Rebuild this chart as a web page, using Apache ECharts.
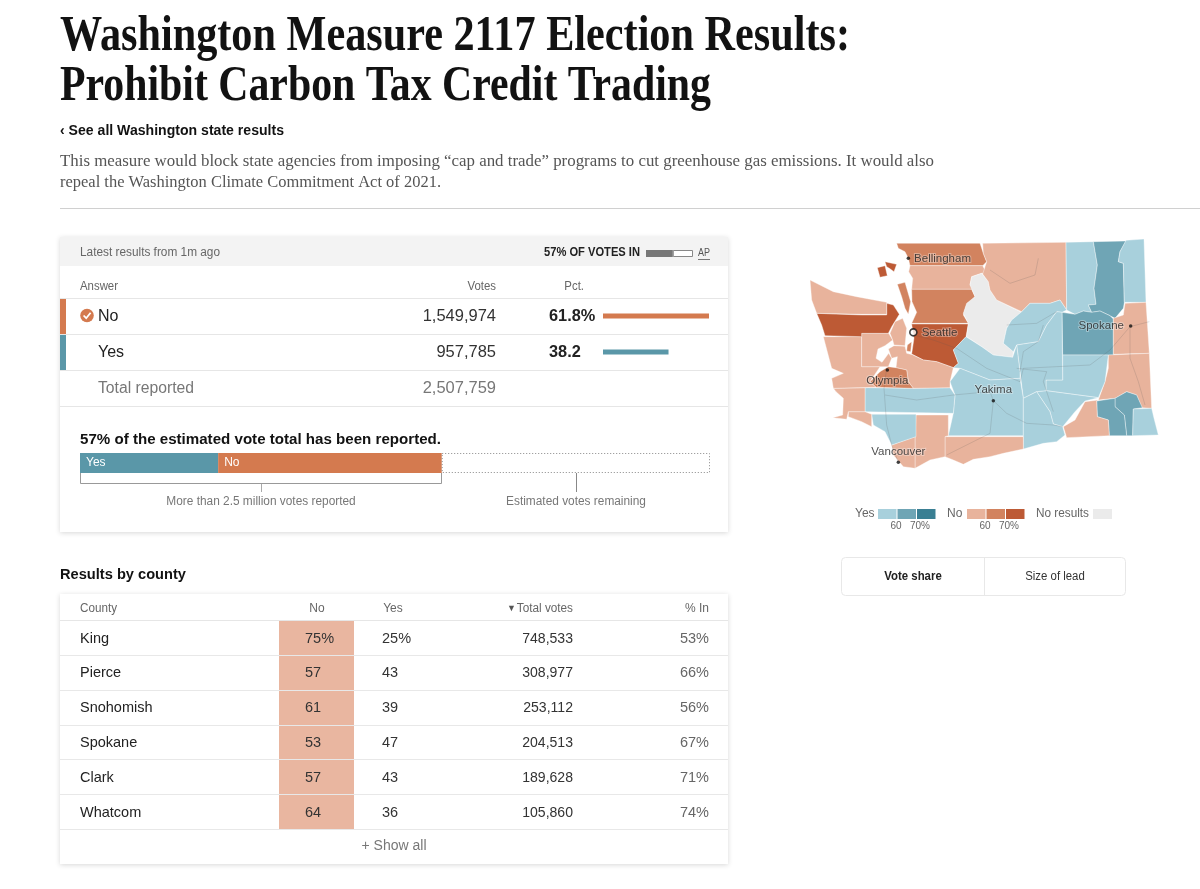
<!DOCTYPE html>
<html><head><meta charset="utf-8">
<style>html,body{margin:0;padding:0;background:#fff}#c{width:1200px;height:889px}</style>
<script src="https://cdn.jsdelivr.net/npm/echarts@6/dist/echarts.min.js"></script>
</head><body><div id="c"></div>
<script>
// ---------- data ----------
const answers = ['No','Yes'];
const answerVotes = [1549974, 957785];
const answerPct = [61.8, 38.2];
const pctLabels = ['61.8%','38.2'];
const totalReported = 2507759;
const estimatedRemaining = 1860000;
const pctVotesIn = 57;
const counties = ['King','Pierce','Snohomish','Spokane','Clark','Whatcom'];
const countyNo = ['75%','57','61','53','57','64'];
const countyYes = ['25%','43','39','47','43','36'];
const countyTotals = [748533,308977,253112,204513,189628,105860];
const countyIn = ['53%','66%','56%','67%','71%','74%'];

const bucketColors = {no50:'#e8b39c',no60:'#d2835f',no70:'#bd5a35',yes50:'#a8d0dc',yes60:'#6fa5b5',none:'#ebebeb'};

const mapCounties = ['Whatcom','Skagit','Snohomish','King','Chelan','Okanogan','Ferry','Stevens','Pend Oreille','Lincoln','Spokane','Whitman','Garfield','Columbia','Asotin','Walla Walla','Adams','Franklin','Douglas','Grant','Kittitas','Yakima','Benton','Klickitat','Skamania','Clark','Cowlitz','Lewis','Pierce','Thurston','Wahkiakum','Pacific','Grays Harbor','Mason','Jefferson','Clallam','Kitsap','Island','San Juan'];
const mapBuckets = ['no60','no50','no60','no70','none','no50','yes50','yes60','yes50','yes60','no50','no50','yes60','yes60','yes50','no50','yes50','yes50','yes50','yes50','yes50','yes50','yes50','no50','no50','no50','yes50','yes50','no50','no60','no50','no50','no50','no50','no70','no50','no50','no60','no70'];
// county outlines (map units)
const mapOutlines = [
 [[[320,55],[570,55],[580,85],[590,110],[578,122],[360,122],[355,100],[345,80],[325,70]]],
 [[[360,122],[578,122],[590,145],[575,145],[545,155],[540,180],[555,193],[365,193],[368,160],[356,140]]],
 [[[365,193],[545,193],[555,215],[530,240],[520,270],[535,295],[365,295],[380,262],[366,230]]],
 [[[365,297],[535,297],[528,335],[490,375],[505,415],[490,428],[440,410],[400,405],[365,387],[372,340]]],
 [[[545,155],[575,145],[595,170],[600,195],[620,225],[695,262],[665,285],[650,310],[640,355],[670,380],[668,397],[610,390],[575,365],[530,335],[535,295],[520,265],[530,235],[555,215],[540,180]]],
 [[[578,55],[828,52],[830,255],[810,225],[780,235],[720,235],[695,260],[620,225],[600,195],[595,170],[578,147],[590,110],[580,85]]],
 [[[828,52],[910,50],[922,120],[912,190],[918,238],[895,240],[905,262],[880,258],[855,268],[830,255]]],
 [[[910,50],[1008,48],[990,80],[985,110],[1000,115],[1003,232],[1000,250],[975,280],[960,272],[930,258],[905,262],[895,240],[918,238],[912,190],[922,120]]],
 [[[1008,46],[1062,42],[1068,232],[1003,232],[1000,115],[985,110],[990,80]]],
 [[[816,262],[855,268],[880,258],[905,262],[930,258],[960,272],[970,282],[970,390],[818,390]]],
 [[[1005,235],[1068,232],[1078,385],[970,388],[970,280],[1000,270]]],
 [[[955,390],[1078,385],[1085,550],[1055,548],[1040,510],[1010,500],[975,520],[925,525],[945,470],[955,430]]],
 [[[975,520],[1010,500],[1040,510],[1057,548],[1030,552],[1028,632],[1010,632],[1003,570],[975,545]]],
 [[[920,528],[975,520],[975,545],[1003,570],[1010,632],[958,632],[955,585],[922,575]]],
 [[[1030,552],[1085,550],[1092,580],[1105,630],[1028,632]]],
 [[[925,525],[920,528],[922,575],[955,585],[958,632],[830,638],[820,605],[855,585],[885,530]]],
 [[[818,390],[955,390],[945,470],[925,518],[768,497],[768,465],[818,465]]],
 [[[768,497],[925,518],[885,528],[855,560],[818,605],[790,597],[780,560],[740,500]]],
 [[[695,260],[720,235],[780,235],[810,225],[830,255],[816,262],[800,260],[770,300],[745,350],[680,360],[670,380],[640,355],[650,310],[665,285]]],
 [[[745,350],[770,300],[800,260],[816,262],[818,465],[768,465],[768,497],[740,500],[700,520],[690,440],[680,360]]],
 [[[490,375],[528,335],[575,365],[610,390],[668,397],[680,360],[690,440],[690,460],[600,465],[510,430],[490,428],[505,415]]],
 [[[510,430],[600,465],[690,460],[700,520],[700,632],[475,632],[490,565],[495,510],[480,470]]],
 [[[700,520],[740,500],[780,560],[790,597],[818,605],[825,630],[800,650],[760,655],[700,672]]],
 [[[465,635],[700,635],[700,672],[640,685],[600,695],[550,703],[520,718],[490,705],[465,695]]],
 [[[378,570],[475,570],[475,632],[465,635],[465,695],[420,705],[375,730],[375,640]]],
 [[[305,660],[375,635],[375,730],[340,725],[310,690]]],
 [[[245,568],[378,568],[378,635],[305,660],[285,620],[250,600]]],
 [[[225,488],[370,490],[480,488],[495,510],[490,565],[225,560]]],
 [[[295,372],[312,362],[345,364],[350,385],[367,389],[400,405],[440,410],[490,428],[480,470],[480,488],[370,490],[355,470],[350,435],[318,428],[322,395],[305,400]]],
 [[[295,425],[318,428],[350,435],[355,470],[370,490],[258,487],[240,470],[270,440]]],
 [[[175,560],[225,560],[245,568],[245,605],[215,590],[175,575]]],
 [[[130,490],[225,488],[225,560],[175,560],[170,583],[128,578],[158,570],[160,520],[138,500]]],
 [[[100,335],[215,335],[215,425],[270,425],[240,470],[258,487],[130,490],[125,460],[160,445],[125,430]]],
 [[[215,325],[296,325],[308,345],[285,362],[264,372],[258,400],[276,412],[296,385],[305,400],[295,425],[270,425],[215,425]]],
 [[[80,265],[215,270],[290,270],[290,235],[310,240],[328,268],[305,305],[295,325],[215,325],[215,335],[105,332],[95,300]]],
 [[[60,165],[130,200],[200,215],[290,232],[290,268],[215,268],[80,265],[65,225]]],
 [[[300,325],[315,290],[338,280],[350,310],[345,362],[312,360],[308,345]]],
 [[[322,178],[345,172],[362,230],[355,268],[345,250],[335,215]],[[352,360],[365,350],[362,380],[350,378]]],
 [[[262,128],[285,122],[292,152],[270,157]],[[285,110],[320,118],[312,140],[298,130],[290,125]]]
];
const roadNames = ['I-90','I-5 south','Lewis','Yakima','North','East','Columbia','Central','Grant','Okanogan'];
const roadLines = [
 [[372,330],[430,345],[500,370],[590,430],[690,470],[700,430],[800,425],[900,420],[960,375],[1020,305],[1078,290]],
 [[290,430],[282,490],[290,600],[305,660],[325,712]],
 [[285,510],[380,525],[490,510],[600,500],[610,527]],
 [[610,527],[650,565],[710,595],[790,600],[818,605]],
 [[600,135],[660,175],[735,150],[745,100]],
 [[1020,305],[1020,400],[1045,470],[1065,540]],
 [[470,690],[600,625],[610,527]],
 [[680,430],[770,440],[760,470],[790,560]],
 [[650,300],[740,295],[800,260]],
 [[760,300],[745,350],[700,380],[690,440]]
];
const cityNames = ['Bellingham','Seattle','Olympia','Spokane','Yakima','Vancouver'];
const cityCoords = [[355,100],[370,322],[292,435],[1022,303],[610,527],[325,712]];
const cityLabelSides = ['right','right','bottom','left','top','top'];

// ---------- colours / fonts ----------
const NO='#d47a4f', YES='#5a97a8';
const SANS='"Liberation Sans",Roboto,sans-serif', SERIF='"Liberation Serif",serif';
const mc=document.createElement('canvas').getContext('2d');
function T(s,x,y,o){o=o||{};
  const size=o.size||14, w=o.weight||'normal', f=o.font||SANS;
  let sx=o.sx||1;
  if(o.fit){mc.font=w+' '+size+'px '+f;sx=o.fit/mc.measureText(s).width;}
  return {type:'text',x:x,y:y+1,scaleX:sx,z:o.z||6,silent:true,
    style:{text:s,fill:o.fill||'#333',font:w+' '+size+'px '+f,textAlign:o.align||'left',textVerticalAlign:o.va||'middle'}};
}
function R(x,y,w,h,fill,o){o=o||{};return {type:'rect',z:o.z||1,silent:true,shape:{x:x,y:y,width:w,height:h,r:o.r||0},
  style:{fill:fill,stroke:o.stroke,lineWidth:o.lw,shadowBlur:o.blur||0,shadowColor:o.sc,shadowOffsetY:o.oy||0}};}
function L(x1,y1,x2,y2,c,o){o=o||{};return {type:'line',z:o.z||2,silent:true,shape:{x1:x1,y1:y1,x2:x2,y2:y2},style:{stroke:c||'#e2e2e2',lineWidth:o.lw||1}};}
const fmt=n=>n.toLocaleString('en-US');

// ---------- page furniture ----------
const g=[];
g.push(T('Washington Measure 2117 Election Results:',60,36,{size:50,weight:'bold',font:SERIF,fill:'#121212',fit:790}));
g.push(T('Prohibit Carbon Tax Credit Trading',60,86,{size:50,weight:'bold',font:SERIF,fill:'#121212',fit:651}));
g.push(T('‹ See all Washington state results',60,129.5,{size:14.5,weight:'bold',fill:'#121212',fit:224}));
g.push(T('This measure would block state agencies from imposing “cap and trade” programs to cut greenhouse gas emissions. It would also',60,160.5,{size:16,font:SERIF,fill:'#555',fit:874}));
g.push(T('repeal the Washington Climate Commitment Act of 2021.',60,181.5,{size:16,font:SERIF,fill:'#555',fit:381}));
g.push(L(60,208.5,1200,208.5,'#d0d0d0'));

// results card
g.push(R(60,237,668,295,'#fff',{z:0,blur:5,sc:'rgba(0,0,0,.16)',oy:1}));
g.push(R(60,237,668,29,'#f3f3f3'));
g.push(T('Latest results from 1m ago',80,252,{size:12.5,fill:'#666',fit:140}));
g.push(T(pctVotesIn+'% OF VOTES IN',544,252,{size:12,weight:'bold',fill:'#222',fit:96}));
g.push(T('AP',698,252,{size:10,fill:'#555',fit:12}));
g.push(L(698,259.5,710,259.5,'#777'));
g.push(T('Answer',80,285.5,{size:12,fill:'#666',fit:38}));
g.push(T('Votes',496,285.5,{size:12,fill:'#666',align:'right',sx:.95}));
g.push(T('Pct.',584,285.5,{size:12,fill:'#666',align:'right',sx:.95}));
[298.5,334.5,370.5,406.5].forEach(y=>g.push(L(60,y,728,y,'#e6e6e6')));
g.push(R(60,299,6,35,NO,{z:3}));
g.push(R(60,335,6,35,YES,{z:3}));
g.push({type:'circle',z:6,silent:true,shape:{cx:87,cy:315.5,r:6.8},style:{fill:NO}});
g.push({type:'polyline',z:7,silent:true,shape:{points:[[83.6,315.5],[86.2,318.2],[90.6,312.8]]},style:{stroke:'#fff',lineWidth:1.8,fill:null}});
answers.forEach((a,i)=>{const y=315.5+i*36;
  g.push(T(a,98,y,{size:16,fill:'#222'}));
  g.push(T(fmt(answerVotes[i]),496,y,{size:16,fill:'#333',align:'right',sx:1.03}));
  g.push(T(pctLabels[i],549,y,{size:16,weight:'bold',fill:'#222',sx:1.02}));
});
g.push(T('Total reported',98,387.5,{size:16,fill:'#777',fit:96}));
g.push(T(fmt(totalReported),496,387.5,{size:16,fill:'#777',align:'right',sx:1.03}));
g.push(T(pctVotesIn+'% of the estimated vote total has been reported.',80,438.5,{size:14.5,weight:'bold',fill:'#121212',fit:361}));
g.push({type:'polyline',z:2,silent:true,shape:{points:[[80.5,473],[80.5,483.5],[441.5,483.5],[441.5,473]]},style:{stroke:'#999',lineWidth:1,fill:null}});
g.push(L(261.5,484,261.5,492,'#aaa'));
g.push(L(576.5,473,576.5,492,'#888'));
g.push(T('More than 2.5 million votes reported',261,501,{size:12.5,fill:'#777',align:'center',sx:.95}));
g.push(T('Estimated votes remaining',576,501,{size:12.5,fill:'#777',align:'center',sx:.95}));

// county table
g.push(T('Results by county',60,573.5,{size:14.5,weight:'bold',fill:'#121212',fit:126}));
g.push(R(60,594,668,270,'#fff',{z:0,blur:5,sc:'rgba(0,0,0,.16)',oy:1}));
g.push(R(279,621,75,208,'#e9b6a0'));
g.push(T('County',80,607.5,{size:12,fill:'#666',fit:37}));
g.push(T('No',317,607.5,{size:12,fill:'#666',align:'center'}));
g.push(T('Yes',393,607.5,{size:12,fill:'#666',align:'center'}));
g.push(T('▼',507,607.5,{size:9,fill:'#555'}));
g.push(T('Total votes',573,607.5,{size:12,fill:'#666',align:'right',sx:.98}));
g.push(T('% In',709,607.5,{size:12,fill:'#666',align:'right'}));
g.push(L(60,620.5,728,620.5,'#e6e6e6'));
counties.forEach((c,i)=>{const y=637.5+i*34.8, b=Math.round(655+i*34.8)+.5;
  g.push(L(60,b,728,b,'#e8e8e8',{z:3}));
  g.push(T(c,80,y,{size:14.5,fill:'#222'}));
  g.push(T(countyNo[i],305,y,{size:14.5,fill:'#333'}));
  g.push(T(countyYes[i],382,y,{size:14.5,fill:'#333'}));
  g.push(T(fmt(countyTotals[i]),573,y,{size:14.5,fill:'#333',align:'right',sx:.97}));
  g.push(T(countyIn[i],709,y,{size:14.5,fill:'#666',align:'right'}));
});
g.push(T('+ Show all',394,845.5,{size:14,fill:'#777',align:'center'}));

// map legend and toggle
g.push(T('Yes',855,513,{size:12,fill:'#666'}));
[['yes50',878],['yes60',897.5],['yes70',917]].forEach(s=>g.push(R(s[1],509,18.5,10,s[0]==='yes70'?'#3a7f93':bucketColors[s[0]])));
g.push(T('No',947,513,{size:12,fill:'#666'}));
[['no50',967],['no60',986.5],['no70',1006]].forEach(s=>g.push(R(s[1],509,18.5,10,bucketColors[s[0]])));
g.push(T('No results',1036,513,{size:12,fill:'#666',fit:53}));
g.push(R(1093,509,19,10,bucketColors.none));
[['60',896],['70%',920],['60',985],['70%',1009]].forEach(t=>g.push(T(t[0],t[1],525,{size:10,fill:'#666',align:'center'})));
g.push(R(841.5,557.5,284,38,'#fff',{stroke:'#e8e8e8',lw:1,r:4}));
g.push(L(984.5,558,984.5,595,'#e8e8e8'));
g.push(T('Vote share',913,575.5,{size:12,weight:'bold',fill:'#222',align:'center',sx:.95}));
g.push(T('Size of lead',1055,575.5,{size:12,fill:'#333',align:'center',sx:.95}));

// ---------- map ----------
echarts.registerMap('wa',{type:'FeatureCollection',features:mapCounties.map((n,i)=>({type:'Feature',properties:{name:n},geometry:{type:'MultiPolygon',coordinates:mapOutlines[i].map(r=>[r])}}))});
const ident={project:p=>p,unproject:p=>p};

const chart=echarts.init(document.getElementById('c'));
const hidden={show:false};
chart.setOption({
  animation:false,backgroundColor:'#fff',
  graphic:{elements:g},
  grid:[
    {left:603,top:298,width:106,height:72},
    {left:80,top:453,width:630,height:20},
    {left:646,top:250,width:47,height:7}
  ],
  xAxis:[
    {gridIndex:0,type:'value',min:0,max:answerPct[0],...hidden},
    {gridIndex:1,type:'value',min:0,max:answerVotes[0]+answerVotes[1]+estimatedRemaining,...hidden},
    {gridIndex:2,type:'value',min:0,max:100,...hidden}
  ],
  yAxis:[
    {gridIndex:0,type:'category',inverse:true,data:answers,...hidden},
    {gridIndex:1,type:'category',data:['votes'],...hidden},
    {gridIndex:2,type:'category',data:['in'],...hidden}
  ],
  geo:{map:'wa',projection:ident,boundingCoords:[[0,0],[1170,780]],left:790,top:225,width:390,height:260,roam:false,silent:true,
    itemStyle:{areaColor:'#eee',borderColor:'rgba(255,255,255,.55)',borderWidth:.7},
    emphasis:{disabled:true},label:{show:false},
    regions:mapCounties.map((n,i)=>({name:n,itemStyle:{areaColor:bucketColors[mapBuckets[i]]}}))},
  series:[
    {type:'bar',name:'Pct',xAxisIndex:0,yAxisIndex:0,barWidth:5,silent:true,
     data:answerPct.map((v,i)=>({value:v,itemStyle:{color:i?YES:NO}}))},
    {type:'bar',name:'Yes',stack:'v',xAxisIndex:1,yAxisIndex:1,barWidth:20,silent:true,data:[answerVotes[1]],itemStyle:{color:YES},
     label:{show:true,position:'insideLeft',distance:6,formatter:'Yes',color:'#fff',fontSize:12,fontFamily:SANS}},
    {type:'bar',name:'No',stack:'v',xAxisIndex:1,yAxisIndex:1,silent:true,data:[answerVotes[0]],itemStyle:{color:NO},
     label:{show:true,position:'insideLeft',distance:6,formatter:'No',color:'#fff',fontSize:12,fontFamily:SANS}},
    {type:'bar',name:'Remaining',stack:'v',xAxisIndex:1,yAxisIndex:1,silent:true,data:[estimatedRemaining],
     itemStyle:{color:'#fff',borderColor:'#888',borderWidth:1,borderType:[1,2]}},
    {type:'bar',name:'In',stack:'m',xAxisIndex:2,yAxisIndex:2,barWidth:7,silent:true,data:[pctVotesIn],itemStyle:{color:'#777'}},
    {type:'bar',name:'Out',stack:'m',xAxisIndex:2,yAxisIndex:2,silent:true,data:[100-pctVotesIn],itemStyle:{color:'#fff',borderColor:'#888',borderWidth:1}},
    {type:'lines',coordinateSystem:'geo',polyline:true,silent:true,z:3,
     lineStyle:{color:'#555',opacity:.2,width:.9},
     data:roadLines.map((c,i)=>({name:roadNames[i],coords:c}))},
    {type:'scatter',coordinateSystem:'geo',z:5,silent:true,symbolSize:3.5,itemStyle:{color:'#111'},
     data:cityNames.map((n,i)=>{const seattle=n==='Seattle';return {name:n,value:cityCoords[i],
       symbolSize:seattle?7:3.5,
       itemStyle:seattle?{color:'#fff',borderColor:'#111',borderWidth:1.6}:{color:'#111'},
       label:{show:true,position:cityLabelSides[i],distance:(cityLabelSides[i]==='right'?4:cityLabelSides[i]==='left'?5:3),formatter:n,color:'#222',fontSize:11.5,fontFamily:SANS,
         textBorderColor:'rgba(255,255,255,.4)',textBorderWidth:2}}})}
  ]
});
</script></body></html>
